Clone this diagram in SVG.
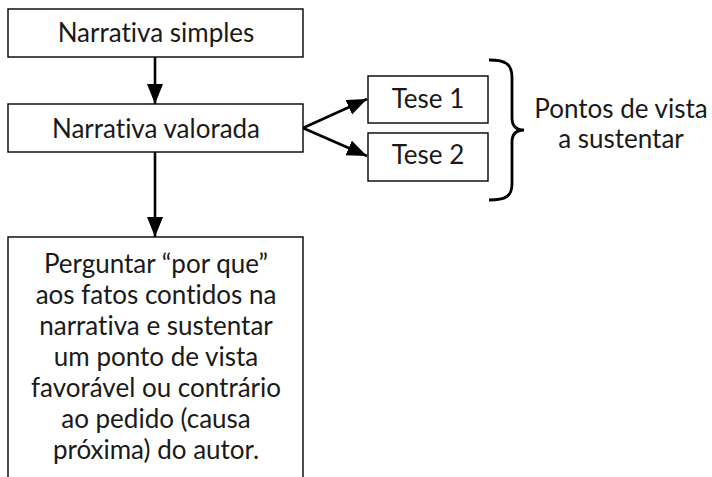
<svg xmlns="http://www.w3.org/2000/svg" width="712" height="477" viewBox="0 0 712 477">
<style>
.box{fill:#fff;stroke:#000;stroke-width:1.4}
.t{font-family:Lato,"Open Sans","DejaVu Sans",sans-serif;font-size:26px;fill:#1a1a1a;text-anchor:middle;font-variant-ligatures:none}
.c{stroke:#000;stroke-width:2.6;fill:none}
</style>
<defs>
<marker id="ah" markerUnits="userSpaceOnUse" markerWidth="22" markerHeight="18" refX="20" refY="8" orient="auto" viewBox="0 0 22 16">
<path d="M0,0 L20,8 L0,16 Z" fill="#000"/>
</marker>
</defs>
<rect width="712" height="477" fill="#fff"/>
<g id="connectors">
<line class="c" x1="155" y1="57" x2="155" y2="104" marker-end="url(#ah)"/>
<line class="c" x1="155" y1="152" x2="155" y2="237" marker-end="url(#ah)"/>
<line class="c" x1="303" y1="128" x2="367" y2="99" marker-end="url(#ah)"/>
<line class="c" x1="303" y1="128" x2="367" y2="156" marker-end="url(#ah)"/>
</g>
<g id="n1">
<rect class="box" x="8" y="9" width="295" height="48"/>
<text class="t" x="156" y="42">Narrativa simples</text>
</g>
<g id="n2">
<rect class="box" x="8" y="104" width="295" height="48"/>
<text class="t" x="156" y="138">Narrativa valorada</text>
</g>
<g id="n3">
<rect class="box" x="8" y="237" width="295" height="250"/>
<text class="t" x="156" y="273">Perguntar “por que”</text>
<text class="t" x="156" y="304">aos fatos contidos na</text>
<text class="t" x="156" y="335">narrativa e sustentar</text>
<text class="t" x="156" y="366">um ponto de vista</text>
<text class="t" x="156" y="397">favorável ou contrário</text>
<text class="t" x="156" y="428">ao pedido (causa</text>
<text class="t" x="156" y="459">próxima) do autor.</text>
</g>
<g id="tese1">
<rect class="box" x="368" y="76" width="120" height="47"/>
<text class="t" x="428" y="108">Tese 1</text>
</g>
<g id="tese2">
<rect class="box" x="368" y="133" width="120" height="48"/>
<text class="t" x="428" y="164">Tese 2</text>
</g>
<g id="brace">
<path d="M489,60 C506,60 512,64 512,78 L512,118 C512,126 516,130 524,130 C516,130 512,134 512,142 L512,184 C512,196 506,200 489,200" fill="none" stroke="#000" stroke-width="2.8"/>
</g>
<g id="label">
<text class="t" x="621" y="118">Pontos de vista</text>
<text class="t" x="621" y="148">a sustentar</text>
</g>
</svg>
